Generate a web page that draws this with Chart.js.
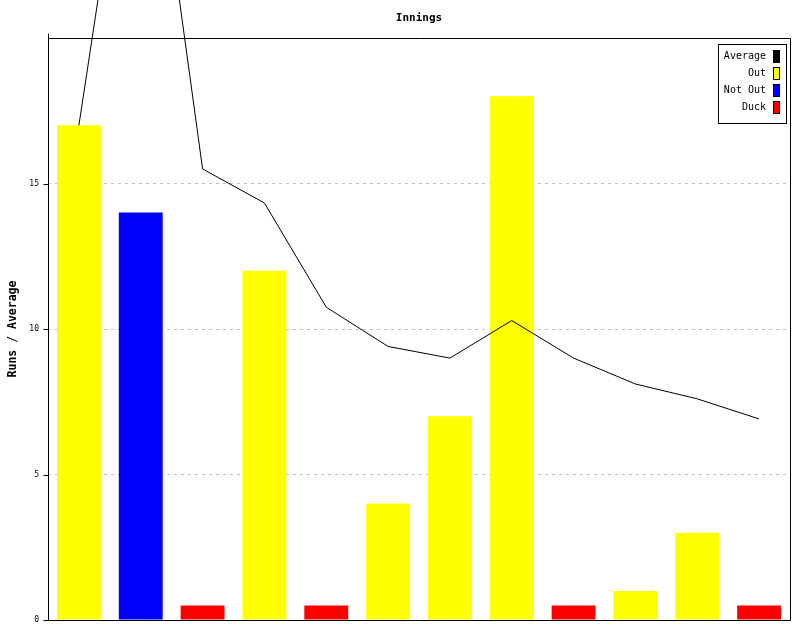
<!DOCTYPE html>
<html>
<head>
<meta charset="utf-8">
<script src="https://cdn.jsdelivr.net/npm/chart.js@4"></script>
<style>
  html, body { margin: 0; padding: 0; background: #fff; }
  #wrap { width: 800px; height: 640px; }
</style>
</head>
<body>
<div id="wrap"><canvas id="innings"></canvas></div>
<script>
// innings in order
const innings = ['1', '2', '3', '4', '5', '6', '7', '8', '9', '10', '11', '12'];
// bar heights (ducks drawn as a small 0.5 stub)
const runs = [17, 14, 0.5, 12, 0.5, 4, 7, 18, 0.5, 1, 3, 0.5];
const outcome = ['Out', 'Not Out', 'Duck', 'Out', 'Duck', 'Out', 'Out', 'Out', 'Duck', 'Out', 'Out', 'Duck'];
// running average after each innings
const average = [17, 31, 15.5, 14.33, 10.75, 9.4, 9, 10.29, 9, 8.11, 7.6, 6.91];
const yTicks = [0, 5, 10, 15];

const legendLabels = ['Average', 'Out', 'Not Out', 'Duck'];
const legendColors = ['#000000', '#ffff00', '#0000ff', '#ff0000'];
const outcomeColor = { 'Out': '#ffff00', 'Not Out': '#0000ff', 'Duck': '#ff0000' };

const MONO = '"DejaVu Sans Mono", "Liberation Mono", monospace';

// frame round the plot + the boxed legend top right
const frameAndLegend = {
  id: 'frameAndLegend',
  afterDatasetsDraw(chart) {
    const ctx = chart.ctx;
    const a = chart.chartArea;
    const L = Math.round(a.left) + 0.5, R = Math.round(a.right) + 0.5;
    const T = Math.round(a.top) + 0.5, B = Math.round(a.bottom) + 0.5;
    ctx.save();
    ctx.strokeStyle = '#000';
    ctx.lineWidth = 1;
    ctx.beginPath();
    ctx.moveTo(L, T - 5); ctx.lineTo(L, B);
    ctx.moveTo(L, B); ctx.lineTo(R, B);
    ctx.lineTo(R, T); ctx.lineTo(L, T);
    // small tick marks left of the axis
    yTicks.forEach(v => {
      const y = Math.round(chart.scales.y.getPixelForValue(v)) + 0.5;
      ctx.moveTo(L - 5, y); ctx.lineTo(L, y);
    });
    ctx.stroke();

    // legend
    const bx = Math.round(a.right) - 72, by = Math.round(a.top) + 6;
    const bw = 68, bh = 79;
    ctx.fillStyle = '#fff';
    ctx.fillRect(bx, by, bw, bh);
    ctx.strokeRect(bx + 0.5, by + 0.5, bw, bh);
    ctx.font = '10px ' + MONO;
    ctx.textAlign = 'right';
    ctx.textBaseline = 'middle';
    legendLabels.forEach((lab, i) => {
      const cy = by + 12 + i * 17;
      ctx.fillStyle = '#000';
      ctx.fillText(lab, bx + 48, cy);
      ctx.fillStyle = legendColors[i];
      ctx.fillRect(bx + 55, cy - 6, 7, 13);
      ctx.strokeRect(bx + 55.5, cy - 5.5, 6, 12);
    });
    ctx.restore();
  }
};

new Chart(document.getElementById('innings'), {
  data: {
    labels: innings,
    datasets: [
      {
        type: 'line',
        label: 'Average',
        data: average,
        borderColor: '#000',
        borderWidth: 1,
        pointRadius: 0,
        tension: 0,
        clip: false,
        order: 0
      },
      {
        type: 'bar',
        label: 'Runs',
        data: runs,
        backgroundColor: outcome.map(o => outcomeColor[o]),
        borderWidth: 0,
        categoryPercentage: 1,
        barPercentage: 0.71,
        order: 1
      }
    ]
  },
  options: {
    responsive: true,
    maintainAspectRatio: false,
    animation: false,
    layout: { padding: { top: 0, right: 10, bottom: 20, left: 0 } },
    plugins: {
      legend: { display: false },
      tooltip: { enabled: false },
      title: {
        display: true,
        text: 'Innings',
        fullSize: false,
        color: '#000',
        font: { family: MONO, size: 11, weight: 'bold' },
        padding: { top: 11.4, bottom: 13.4 }
      }
    },
    scales: {
      x: { display: false },
      y: {
        min: 0,
        max: 20,
        afterBuildTicks: s => { s.ticks = yTicks.map(v => ({ value: v })); },
        afterFit: s => { s.width = 48; },
        border: { display: false, dash: [3, 4] },
        grid: {
          color: c => (c.tick && c.tick.value === 0) ? 'rgba(0,0,0,0)' : '#c0c0c0',
          drawTicks: true,
          tickColor: 'rgba(0,0,0,0)',
          tickLength: 5,
          lineWidth: 1
        },
        ticks: {
          color: '#000',
          padding: 4,
          font: { family: MONO, size: 8 }
        },
        title: {
          display: true,
          text: 'Runs / Average',
          color: '#000',
          font: { family: MONO, size: 11.5, weight: 'bold' },
          padding: { top: 6, bottom: 0 }
        }
      }
    }
  },
  plugins: [frameAndLegend]
});
</script>
</body>
</html>
